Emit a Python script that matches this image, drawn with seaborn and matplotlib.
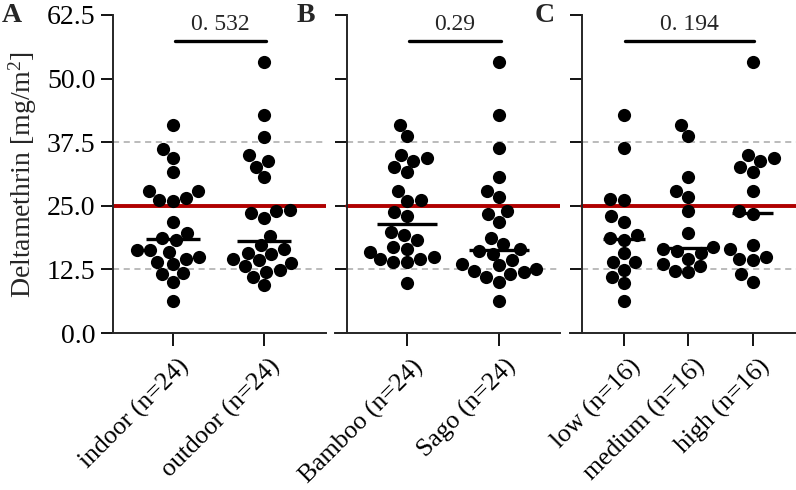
import matplotlib
matplotlib.use('Agg')
import matplotlib.pyplot as plt
import matplotlib.transforms as mtransforms
import seaborn as sns
import numpy as np
import pandas as pd

# panel A: location
indoor = [40.8, 36.1, 34.3, 31.7, 28.0, 28.0, 26.2, 26.0, 26.6, 21.8, 19.7, 18.6,
          18.3, 16.3, 16.3, 16.0, 14.9, 14.5, 14.0, 13.5, 11.6, 11.8, 10.0, 6.2]
outdoor = [53.3, 42.8, 38.6, 35.0, 33.8, 32.7, 30.6, 24.2, 24.0, 23.6, 22.7, 19.1,
           17.2, 16.6, 15.7, 15.6, 14.5, 14.3, 13.8, 13.1, 12.4, 12.0, 11.0, 9.4]

# panel B: wall material
bamboo = [40.9, 38.7, 35.0, 33.9, 34.4, 32.7, 31.6, 27.9, 26.2, 26.0, 23.8, 22.9,
          19.8, 19.2, 18.3, 16.9, 16.5, 16.0, 15.0, 14.6, 14.6, 13.9, 13.9, 9.8]
sago = [53.3, 42.9, 36.3, 30.7, 27.9, 26.7, 23.9, 23.4, 21.8, 18.7, 17.4, 16.2,
        16.5, 15.6, 14.4, 13.5, 13.3, 12.5, 12.0, 12.2, 11.6, 11.1, 10.1, 6.3]

# panel C: height
low = [42.9, 36.3, 26.2, 26.3, 22.9, 21.8, 19.2, 18.6, 18.3, 15.7, 13.9, 13.9,
       12.4, 11.1, 9.8, 6.2]
medium = [40.9, 38.7, 30.7, 27.9, 26.7, 23.9, 19.7, 16.9, 16.6, 16.1, 15.8, 14.6,
          13.5, 13.2, 11.9, 12.2]
high = [53.3, 35.0, 33.8, 34.4, 32.7, 31.6, 27.9, 23.9, 23.4, 17.3, 16.5, 15.0,
        14.6, 14.4, 11.5, 10.1]

labels_a = ['indoor (n=24)', 'outdoor (n=24)']
labels_b = ['Bamboo (n=24)', 'Sago (n=24)']
labels_c = ['low (n=16)', 'medium (n=16)', 'high (n=16)']
p_values = ['0. 532', '0.29', '0. 194']
y_ticks = [0, 12.5, 25, 37.5, 50, 62.5]

sns.set_style('ticks')
plt.rcParams['font.family'] = ['Liberation Serif', 'DejaVu Serif']
plt.rcParams['mathtext.fontset'] = 'custom'
plt.rcParams['mathtext.rm'] = 'Liberation Serif'
plt.rcParams['mathtext.it'] = 'Liberation Serif:italic'

W, H = 796, 490
fig = plt.figure(figsize=(W / 100, H / 100), dpi=100)
shift = mtransforms.ScaledTranslation(5 / 100, 0, fig.dpi_scale_trans)

panels = [
    # groups, labels, left px, right px, spine px, xlim, letter x, median half width
    ([indoor, outdoor], labels_a, 113, 326, 113, (-0.659, 1.681), 2, 0.30),
    ([bamboo, sago], labels_b, 335, 560, 347, (-0.783, 1.663), 297, 0.33),
    ([low, medium, high], labels_c, 570, 796, 582, (-0.837, 2.67), 535, 0.32),
]

for k, (groups, labels, left, right, spine_x, xlim, letter_x, hw) in enumerate(panels):
    ax = fig.add_axes([left / W, 1 - 333 / H, (right - left) / W, 318 / H])
    df = pd.DataFrame({'group': np.repeat(labels, [len(g) for g in groups]),
                       'value': np.concatenate(groups)})
    sns.swarmplot(data=df, x='group', y='value', order=labels, color='black',
                  size=9.5, ax=ax, zorder=3)
    ax.set_xlim(xlim)
    ax.set_ylim(0, 62.5)
    ax.set_xlabel('')
    ax.set_ylabel('')
    frac = (spine_x - left) / (right - left)

    ax.axhline(25, xmin=frac, color='#b00000', lw=2.8, zorder=2)
    for yv in (12.5, 37.5):
        ax.axhline(yv, xmin=frac, color='#a8a8a8', lw=1.1, ls=(0, (4, 3)), zorder=1)

    for i, g in enumerate(groups):
        ax.hlines(np.median(g), i - hw, i + hw, color='black', lw=2.4, zorder=4)

    # comparison bracket
    n = len(groups) - 1
    ax.plot([0.02, n + 0.02], [57.3, 57.3], color='black', lw=2.4, clip_on=False)
    ax.text(n / 2 + 0.02, 58.6, p_values[k], ha='center', va='bottom', fontsize=17)

    sns.despine(ax=ax)
    ax.spines['left'].set_position(('axes', frac))
    for s in ('left', 'bottom'):
        ax.spines[s].set_linewidth(1.4)
    ax.set_yticks(y_ticks)
    if k == 0:
        ax.set_yticklabels([f'{t:.1f}' for t in y_ticks])
        ax.set_ylabel('Deltamethrin [mg/m$^{2}$]', fontsize=20, labelpad=6)
    else:
        ax.tick_params(axis='y', labelleft=False)
    ax.tick_params(length=9, width=1.3, labelsize=20, colors='black')
    ax.tick_params(axis='x', pad=7, labelsize=18.5)
    for lbl in ax.get_xticklabels():
        lbl.set_rotation(45)
        lbl.set_ha('right')
        lbl.set_rotation_mode('anchor')
        lbl.set_transform(lbl.get_transform() + shift)

    fig.text(letter_x / W, 1 - 22 / H, 'ABC'[k], fontsize=20, fontweight='bold',
             ha='left', va='baseline')

fig.savefig('out.png', dpi=100)
